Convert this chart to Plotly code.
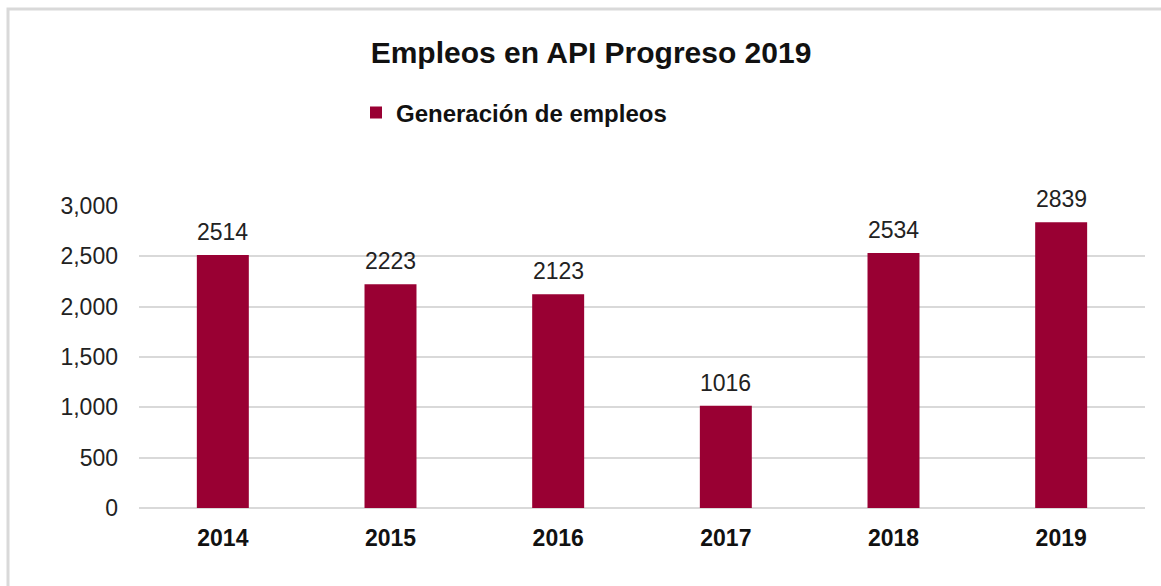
import plotly.graph_objects as go

years = ["2014", "2015", "2016", "2017", "2018", "2019"]
empleos = [2514, 2223, 2123, 1016, 2534, 2839]
series_name = "Generación de empleos"
title_text = "Empleos en API Progreso 2019"
y_ticks = [0, 500, 1000, 1500, 2000, 2500, 3000]

FONT = "Liberation Sans, Arial, sans-serif"
BAR = "#990033"
GRID = "#d9d9d9"

fig = go.Figure()
fig.add_trace(go.Bar(
    x=years, y=empleos, name=series_name,
    marker=dict(color=BAR, line=dict(width=0)),
    showlegend=True,
))

# value labels (category index used as x on the category axis)
for i, yv in enumerate(empleos):
    fig.add_annotation(x=i, y=yv, xref="x", yref="y", text=str(yv), showarrow=False,
                       yanchor="bottom", yshift=8,
                       font=dict(family=FONT, size=23, color="#222222"))

W, H = 1161, 586
L, R, T, B = 139, 16, 206, 78
pw, ph = W - L - R, H - T - B

def px(x):
    return (x - L) / pw

def py(y):
    return (H - B - y) / ph

fig.add_shape(type="rect", xref="paper", yref="paper",
              x0=px(8), x1=px(1200), y0=py(640), y1=py(9),
              line=dict(color=GRID, width=3), fillcolor="rgba(0,0,0,0)",
              layer="below")

fig.update_layout(
    width=W, height=H,
    margin=dict(l=L, r=R, t=T, b=B),
    paper_bgcolor="white", plot_bgcolor="white",
    font=dict(family=FONT, size=23, color="#222222"),
    title=dict(text="<b>" + title_text + "</b>", x=591 / W, xanchor="center",
               y=1 - 52 / H, yanchor="middle",
               font=dict(family=FONT, size=30, color="#111111")),
    legend=dict(orientation="h", x=px(356), xanchor="left",
                y=py(113), yanchor="middle",
                font=dict(family=FONT, size=24, color="#111111", weight="bold"),
                itemwidth=30, bgcolor="rgba(0,0,0,0)"),
    bargap=0.69,
    showlegend=True,
)
fig.update_xaxes(type="category", range=[-0.5, len(years) - 0.5],
                 showgrid=False, showline=False, ticks="",
                 tickfont=dict(family=FONT, size=23, color="#111111", weight="bold"),
                 ticklabelstandoff=14)
fig.update_yaxes(range=[0, 3000], tickvals=y_ticks, tickformat=",",
                 showgrid=True, gridcolor=GRID, gridwidth=2,
                 zeroline=True, zerolinecolor=GRID, zerolinewidth=2,
                 showline=False, ticks="",
                 tickfont=dict(family=FONT, size=23, color="#222222"),
                 ticklabelstandoff=20)

fig.write_html("out.html", config={"displayModeBar": False},
               post_script="document.body.style.margin='0';document.body.style.overflow='hidden';")
